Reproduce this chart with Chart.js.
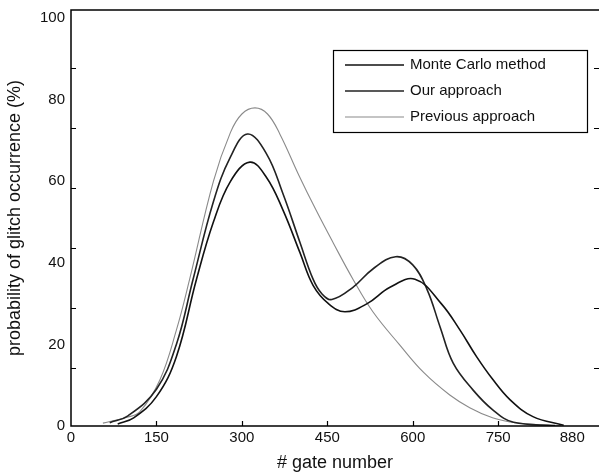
<!DOCTYPE html>
<html><head><meta charset="utf-8">
<script src="https://cdn.jsdelivr.net/npm/chart.js@4.4.1/dist/chart.umd.min.js"></script>
<style>html,body{margin:0;padding:0;background:#fff;} #wrap{width:599px;height:472px;}</style>
</head><body><div id="wrap"><canvas id="c" width="599" height="472"></canvas></div>
<script>
// Series labels
const seriesNames = ["Monte Carlo method", "Our approach", "Previous approach"];

// Monte Carlo method
const monteGates = [82, 110, 150, 185, 220, 250, 280, 314, 343, 372, 402, 425, 452, 481, 520, 560, 604, 650, 683, 712, 740, 771, 811, 865];
const monteVals  = [0.5, 2, 7.2, 17, 35.8, 50, 60, 64.7, 61, 53, 42.5, 34.5, 30, 28, 30, 34, 36, 30, 23.5, 17, 11.5, 6.4, 2.3, 0.2];

// Our approach
const oursGates = [68, 100, 150, 185, 214, 250, 280, 310, 343, 372, 402, 425, 440, 458, 495, 530, 570, 600, 625, 648, 671, 706, 741, 777, 850];
const oursVals  = [0.8, 2.5, 9, 20, 35.8, 55, 66, 71.6, 66.8, 57, 45, 36, 32.5, 31, 34, 38.5, 41.5, 39.5, 33.5, 24.3, 15.4, 8.8, 3.9, 0.9, 0.1];

// Previous approach
const prevGates = [56, 100, 121, 156, 185, 208, 250, 280, 300, 323, 345, 367, 400, 430, 460, 495, 530, 577, 620, 665, 700, 740, 771, 810, 860];
const prevVals  = [0.7, 2.2, 3.5, 11.3, 23.5, 35.8, 60, 72, 76.5, 78, 76.5, 71.5, 61.5, 53, 45, 36, 28, 19.9, 13, 7.6, 4.5, 2, 1, 0.4, 0.1];

// Axis tick labels and tick-mark positions
const xTickLabels = [0, 150, 300, 450, 600, 750, 880];
const xTickMarks = [150, 300, 450, 600, 750];
const yTickLabels = [0, 20, 40, 60, 80, 100];
const yTickMarks = [14.2, 28.9, 43.6, 58.3, 73, 87.7];

const toXY = (g, v) => g.map((x, i) => ({x: x, y: v[i]}));
const FONT = "'Liberation Sans', Arial, sans-serif";

const framePlugin = {
  id: 'frame',
  afterDraw(chart) {
    const ctx = chart.ctx, a = chart.chartArea;
    const xs = chart.scales.x, ys = chart.scales.y;
    ctx.save();
    ctx.strokeStyle = '#000';
    ctx.lineWidth = 1.5;
    ctx.beginPath();
    ctx.moveTo(a.right, a.top); ctx.lineTo(a.left, a.top);
    ctx.lineTo(a.left, a.bottom); ctx.lineTo(a.right, a.bottom);
    ctx.stroke();
    ctx.lineWidth = 1.2;
    ctx.beginPath();
    yTickMarks.forEach(v => {
      const y = Math.round(ys.getPixelForValue(v)) + 0.5;
      ctx.moveTo(a.left, y); ctx.lineTo(a.left + 5, y);
      ctx.moveTo(a.right - 5, y); ctx.lineTo(a.right, y);
    });
    xTickMarks.forEach(v => {
      const x = Math.round(xs.getPixelForValue(v)) + 0.5;
      ctx.moveTo(x, a.bottom); ctx.lineTo(x, a.bottom - 5);
    });
    ctx.stroke();
    // legend box
    const bx = a.right - 266, by = a.top + 40, bw = 254, bh = 82;
    ctx.lineWidth = 1.2;
    ctx.fillStyle = '#fff';
    ctx.fillRect(bx, by, bw, bh);
    ctx.strokeRect(bx + 0.5, by + 0.5, bw, bh);
    ctx.font = '15px ' + FONT;
    ctx.textBaseline = 'middle';
    chart.data.datasets.forEach((ds, i) => {
      const y = by + 15 + i * 26;
      ctx.strokeStyle = ds.borderColor;
      ctx.lineWidth = ds.borderWidth;
      ctx.beginPath();
      ctx.moveTo(bx + 12, y); ctx.lineTo(bx + 71, y);
      ctx.stroke();
      ctx.fillStyle = '#111';
      ctx.fillText(ds.label, bx + 77, y);
    });
    ctx.restore();
  }
};

new Chart(document.getElementById('c'), {
  type: 'line',
  data: {
    datasets: [
      {label: seriesNames[0], data: toXY(monteGates, monteVals), borderColor: '#111', borderWidth: 1.6},
      {label: seriesNames[1], data: toXY(oursGates, oursVals), borderColor: '#222', borderWidth: 1.6},
      {label: seriesNames[2], data: toXY(prevGates, prevVals), borderColor: '#8a8a8a', borderWidth: 1.1}
    ]
  },
  options: {
    responsive: false,
    animation: false,
    events: [],
    layout: {padding: {top: 10, right: 0, left: 0, bottom: 0}},
    elements: {point: {radius: 0}, line: {tension: 0.4, fill: false}},
    plugins: {legend: {display: false}, tooltip: {enabled: false}},
    scales: {
      x: {
        type: 'linear', min: 0, max: 927,
        grid: {display: false, drawTicks: false},
        border: {display: false},
        afterBuildTicks: s => { s.ticks = xTickLabels.map(v => ({value: v})); },
        afterFit: s => { s.height = 46; s.paddingLeft = 0; s.paddingRight = 0; },
        ticks: {color: '#111', font: {family: FONT, size: 15}, padding: 3, maxRotation: 0, autoSkip: false},
        title: {display: true, text: '# gate number', color: '#111', font: {family: FONT, size: 18}, padding: {top: 0, bottom: -2}}
      },
      y: {
        type: 'linear', min: 0, max: 102,
        grid: {display: false, drawTicks: false},
        border: {display: false},
        afterBuildTicks: s => { s.ticks = yTickLabels.map(v => ({value: v})); },
        afterFit: s => { s.width = 71; s.paddingTop = 0; s.paddingBottom = 0; },
        ticks: {color: '#111', font: {family: FONT, size: 15}, padding: 6},
        title: {display: true, text: 'probability of glitch occurrence (%)', color: '#111', font: {family: FONT, size: 18}, padding: {top: 4, bottom: 4}}
      }
    }
  },
  plugins: [framePlugin]
});
</script>
</body></html>
